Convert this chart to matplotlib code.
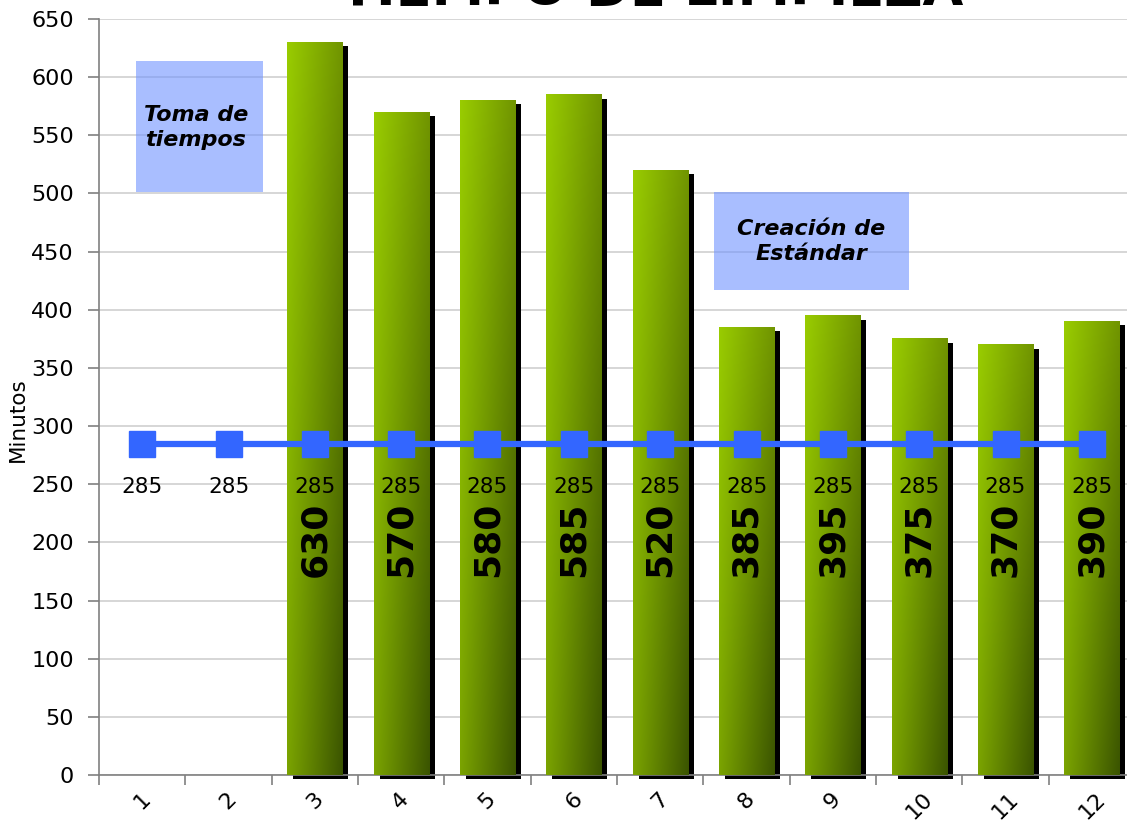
import numpy as np
import matplotlib.pyplot as plt
import matplotlib.transforms as mtransforms
from matplotlib.patches import Rectangle

# Data
semanas = list(range(1, 13))
tiempos = [None, None, 630, 570, 580, 585, 520, 385, 395, 375, 370, 390]
estandar = [285] * 12

plt.rcParams['font.family'] = ['DejaVu Sans']

fig = plt.figure(figsize=(11.27, 8.25), dpi=100)
ax = fig.add_axes([99 / 1127, 50 / 825, 1036 / 1127, 756 / 825])

# gradient used for each bar (top-left bright, bottom-right dark)
top = np.array([[0.60, 0.80, 0.00], [0.44, 0.58, 0.00]])
bot = np.array([[0.48, 0.64, 0.00], [0.23, 0.33, 0.00]])
n = 64
u = np.linspace(0, 1, n)
grad = np.zeros((n, n, 3))
for i, v in enumerate(u):
    left = top[0] * (1 - v) + bot[0] * v
    right = top[1] * (1 - v) + bot[1] * v
    grad[i] = left[None, :] * (1 - u[:, None]) + right[None, :] * u[:, None]
grad = np.clip(grad, 0, 1)

shadow_tr = mtransforms.offset_copy(ax.transData, fig=fig, x=6, y=-4, units='dots')
width = 0.64

for x, h in zip(semanas, tiempos):
    if h is None:
        continue
    ax.add_patch(Rectangle((x - width / 2, 0), width, h, facecolor='black',
                           edgecolor='none', transform=shadow_tr, clip_on=False, zorder=2))
    ax.imshow(grad, extent=(x - width / 2, x + width / 2, 0, h), origin='upper',
              aspect='auto', zorder=3, interpolation='bilinear')
    ax.text(x, 203, str(h), rotation=90, ha='center', va='center',
            fontsize=26, fontweight='bold', zorder=6)

ax.set_xlim(0.5, 12.5)
ax.set_ylim(0, 650)

# standard line
ax.plot(semanas, estandar, color='#3366FF', lw=4.5, marker='s', markersize=19, zorder=5)
for x, v in zip(semanas, estandar):
    ax.text(x, 248, str(v), ha='center', va='center', fontsize=15.5, zorder=6)

# text boxes (semi transparent, gridlines show through)
ax.add_patch(Rectangle((0.93, 501), 1.47, 113, facecolor='#7194FF', alpha=0.6,
                       edgecolor='none', zorder=1))
ax.text(1.62, 557, 'Toma de\ntiempos', ha='center', va='center', fontsize=16,
        fontweight='bold', style='italic', zorder=4, linespacing=1.3)
ax.add_patch(Rectangle((7.62, 417), 2.26, 84, facecolor='#7194FF', alpha=0.6,
                       edgecolor='none', zorder=1))
ax.text(8.75, 459, 'Creación de\nEstándar', ha='center', va='center', fontsize=16,
        fontweight='bold', style='italic', zorder=4, linespacing=1.3)

# axes styling
ax.set_yticks(range(0, 651, 50))
ax.yaxis.grid(True, color='#D0D0D0', lw=1.2, zorder=0)
ax.set_axisbelow(True)
ax.set_xticks(semanas)
ax.set_xticklabels([str(s) for s in semanas], rotation=45, fontsize=16)
ax.tick_params(axis='x', length=0, pad=10)
ax.set_xticks(np.arange(0.5, 12.6, 1), minor=True)
ax.tick_params(axis='x', which='minor', length=7, color='#808080', width=1.2)
ax.tick_params(axis='y', labelsize=16, length=8, pad=10, color='#808080', width=1.2)
for s in ['top', 'right']:
    ax.spines[s].set_visible(False)
for s in ['left', 'bottom']:
    ax.spines[s].set_color('#808080')
    ax.spines[s].set_linewidth(1.2)
ax.set_ylabel('Minutos', fontsize=15.5)
ax.yaxis.set_label_coords(-0.069, 0.47)

# title is cut off at the top edge in the original
fig.text(0.578, 1 - 5 / 825, 'TIEMPO DE LIMPIEZA', ha='center', va='baseline',
         fontsize=38, fontweight='bold')

fig.savefig('out.png', dpi=100)
